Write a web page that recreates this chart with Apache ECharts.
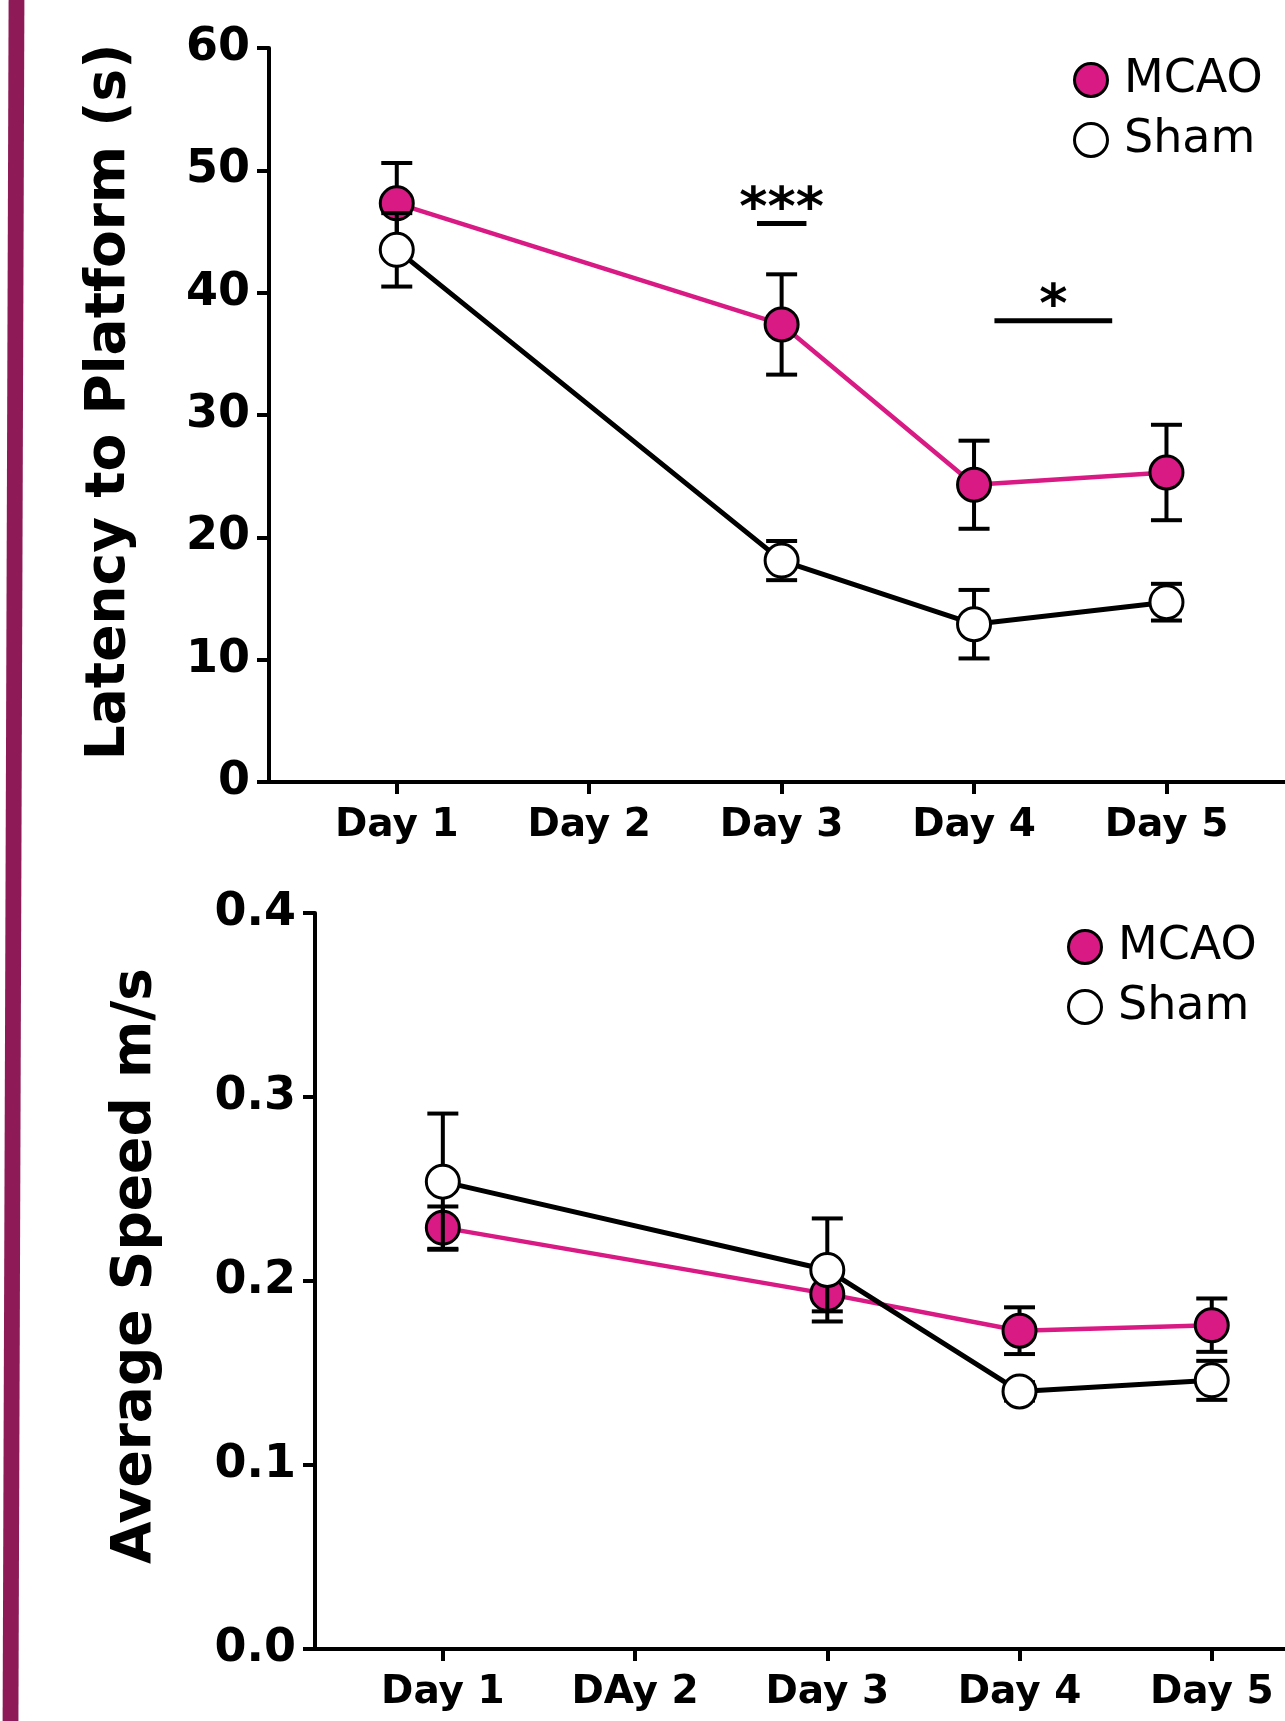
<!DOCTYPE html>
<html>
<head>
<meta charset="utf-8">
<script src="https://cdn.jsdelivr.net/npm/echarts@6/dist/echarts.min.js"></script>
<style>
html,body{margin:0;padding:0;background:#fff;}
#c{width:1285px;height:1721px;}
</style>
</head>
<body>
<div id="c"></div>
<script>
// ---- data ----
const days = [1, 3, 4, 5];
const topDayLabels = ['Day 1', 'Day 2', 'Day 3', 'Day 4', 'Day 5'];
const bottomDayLabels = ['Day 1', 'DAy 2', 'Day 3', 'Day 4', 'Day 5'];
const tickDays = [1, 2, 3, 4, 5];

const mcaoLatency = [47.3, 37.4, 24.3, 25.3];
const mcaoLatencyErr = [3.3, 4.1, 3.6, 3.9];
const shamLatency = [43.5, 18.1, 12.9, 14.7];
const shamLatencyErr = [3.0, 1.6, 2.8, 1.5];

const mcaoSpeed = [0.229, 0.193, 0.173, 0.176];
const mcaoSpeedErr = [0.0115, 0.0095, 0.0127, 0.0145];
const shamSpeed = [0.254, 0.206, 0.140, 0.146];
const shamSpeedErr = [0.037, 0.028, 0.005, 0.0106];

const sigStart = [2.872, 4.106];
const sigEnd = [3.129, 4.718];
const sigY = [45.65, 37.7];
const sigText = ['***', '*'];

// ---- styling ----
const PINK = '#D91A85';
const FONT = 'DejaVu Sans';

function pairs(xs, ys) { return xs.map((x, i) => [x, ys[i]]); }
function errData(xs, ys, es) { return xs.map((x, i) => [x, ys[i] - es[i], ys[i] + es[i]]); }

function errRender(params, api) {
  const x = api.value(0), lo = api.value(1), hi = api.value(2);
  const a = api.coord([x, lo]), b = api.coord([x, hi]);
  const hw = 15.5;
  const st = { stroke: '#000', lineWidth: 4 };
  return {
    type: 'group',
    children: [
      { type: 'line', shape: { x1: a[0], y1: a[1], x2: b[0], y2: b[1] }, style: st },
      { type: 'line', shape: { x1: a[0] - hw, y1: a[1], x2: a[0] + hw, y2: a[1] }, style: st },
      { type: 'line', shape: { x1: b[0] - hw, y1: b[1], x2: b[0] + hw, y2: b[1] }, style: st }
    ]
  };
}

function sigRender(params, api) {
  const x1 = api.value(0), x2 = api.value(1), y = api.value(2);
  const a = api.coord([x1, y]), b = api.coord([x2, y]);
  const txt = sigText[params.dataIndex];
  return {
    type: 'group',
    children: [
      { type: 'line', shape: { x1: a[0], y1: a[1], x2: b[0], y2: b[1] }, style: { stroke: '#000', lineWidth: 5 } },
      { type: 'text', x: (a[0] + b[0]) / 2, y: a[1] - 13,
        style: { text: txt, fontSize: 54, fontWeight: 'bold', fontFamily: FONT, fill: '#000', align: 'center', verticalAlign: 'middle' } }
    ]
  };
}

function xAxisDef(gridIndex, min, max, labels) {
  return {
    type: 'value', gridIndex: gridIndex, min: min, max: max,
    splitLine: { show: false },
    axisLine: { show: true, lineStyle: { color: '#000', width: 4 } },
    axisTick: { show: true, length: 12, lineStyle: { color: '#000', width: 4 }, customValues: tickDays },
    axisLabel: {
      customValues: tickDays, margin: 24,
      formatter: v => labels[Math.round(v) - 1] || '',
      fontSize: 39, fontWeight: 'bold', fontFamily: FONT, color: '#000'
    }
  };
}

function yAxisDef(gridIndex, max, interval, fmt, name, gap, pad) {
  return {
    type: 'value', gridIndex: gridIndex, min: 0, max: max, interval: interval,
    name: name, nameLocation: 'middle', nameRotate: 90, nameGap: gap,
    nameTextStyle: { fontSize: 55, fontWeight: 'bold', fontFamily: FONT, color: '#000', padding: pad },
    splitLine: { show: false },
    axisLine: { show: true, lineStyle: { color: '#000', width: 4 } },
    axisTick: { show: true, length: 12, lineStyle: { color: '#000', width: 4 } },
    axisLabel: { margin: 19, formatter: fmt, fontSize: 46, fontWeight: 'bold', fontFamily: FONT, color: '#000' }
  };
}

function legendDef(left, top) {
  return {
    orient: 'vertical', left: left, top: top,
    itemWidth: 56, itemHeight: 33, itemGap: 14, selectedMode: false,
    textStyle: { fontSize: 46, fontFamily: FONT, color: '#000', lineHeight: 46 },
    data: [
      { name: 'MCAO', icon: 'circle', itemStyle: { color: PINK, borderColor: '#000', borderWidth: 3 } },
      { name: 'Sham', icon: 'circle', itemStyle: { color: '#fff', borderColor: '#000', borderWidth: 3 } }
    ]
  };
}

function groupSeries(idx, mY, mE, sY, sE) {
  return [
    { type: 'custom', name: 'MCAO err ' + idx, xAxisIndex: idx, yAxisIndex: idx, z: 2, silent: true,
      renderItem: errRender, data: errData(days, mY, mE) },
    { type: 'line', name: 'MCAO', xAxisIndex: idx, yAxisIndex: idx, z: 3,
      data: pairs(days, mY), symbol: 'circle', symbolSize: 33, showAllSymbol: true,
      lineStyle: { color: PINK, width: 4.5 },
      itemStyle: { color: PINK, borderColor: '#000', borderWidth: 3 } },
    { type: 'custom', name: 'Sham err ' + idx, xAxisIndex: idx, yAxisIndex: idx, z: 4, silent: true,
      renderItem: errRender, data: errData(days, sY, sE) },
    { type: 'line', name: 'Sham', xAxisIndex: idx, yAxisIndex: idx, z: 5,
      data: pairs(days, sY), symbol: 'circle', symbolSize: 33, showAllSymbol: true,
      lineStyle: { color: '#000', width: 5 },
      itemStyle: { color: '#fff', borderColor: '#000', borderWidth: 3 } }
  ];
}

const chart = echarts.init(document.getElementById('c'), null, { renderer: 'canvas' });
const option = {
  backgroundColor: '#fff',
  animation: false,
  textStyle: { fontFamily: FONT },
  graphic: [
    { type: 'polygon', shape: { points: [[8.6, 0], [24.4, 0], [18.4, 1721], [2.6, 1721]] },
      style: { fill: '#8E1B57' }, silent: true }
  ],
  grid: [
    { left: 269, top: 48, right: 0, bottom: 939, containLabel: false },
    { left: 315, top: 913, right: 0, bottom: 72, containLabel: false }
  ],
  xAxis: [
    xAxisDef(0, 0.336, 5.616, topDayLabels),
    xAxisDef(1, 0.335, 5.381, bottomDayLabels)
  ],
  yAxis: [
    yAxisDef(0, 60, 10, v => String(v), 'Latency to Platform (s)', 132, [0, 0, 0, 26]),
    yAxisDef(1, 0.4, 0.1, v => v.toFixed(1), 'Average Speed m/s', 152, [0, 0, 0, 30])
  ],
  legend: [legendDef(1068, 52), legendDef(1062, 919)],
  series: [
    ...groupSeries(0, mcaoLatency, mcaoLatencyErr, shamLatency, shamLatencyErr),
    ...groupSeries(1, mcaoSpeed, mcaoSpeedErr, shamSpeed, shamSpeedErr),
    { type: 'custom', name: 'significance', xAxisIndex: 0, yAxisIndex: 0, z: 6, silent: true,
      renderItem: sigRender, data: sigStart.map((s, i) => [s, sigEnd[i], sigY[i]]) }
  ]
};
chart.setOption(option);
</script>
</body>
</html>
